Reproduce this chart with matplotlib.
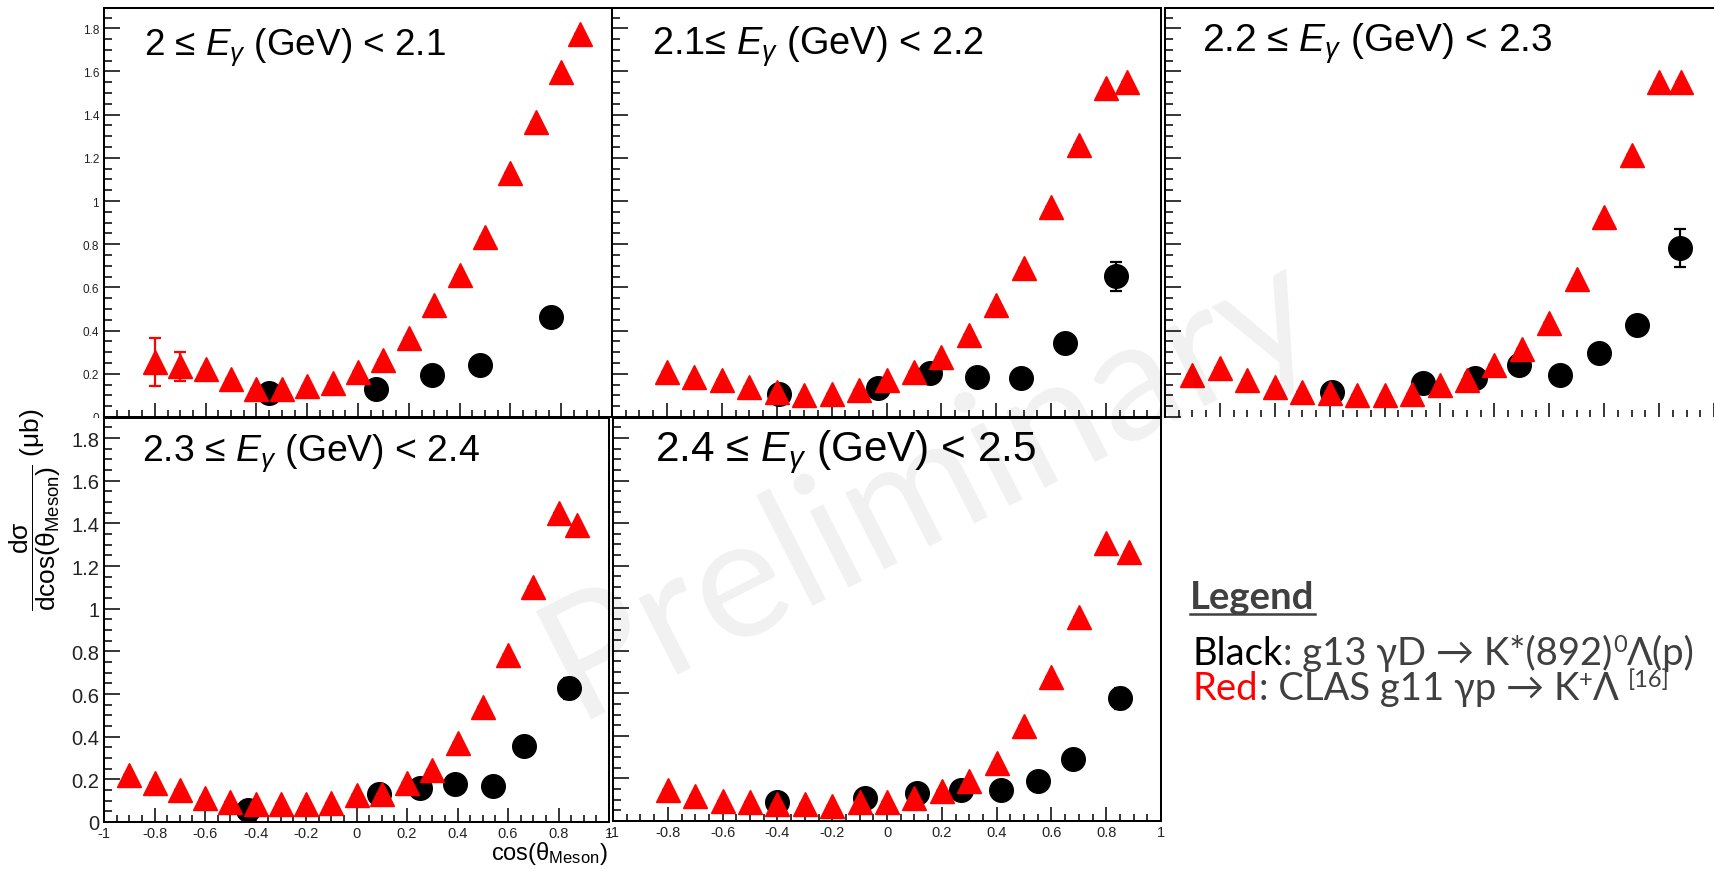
import matplotlib
matplotlib.use("Agg")
import matplotlib.pyplot as plt
from matplotlib.ticker import MultipleLocator, FuncFormatter
from matplotlib.patches import Rectangle
from matplotlib.lines import Line2D

W, H, DPI = 1714, 870, 100

plt.rcParams['font.family'] = ['Liberation Sans', 'DejaVu Sans']
plt.rcParams['mathtext.fontset'] = 'custom'
plt.rcParams['mathtext.rm'] = 'Liberation Sans'
plt.rcParams['mathtext.it'] = 'Liberation Sans:italic'
plt.rcParams['mathtext.bf'] = 'Liberation Sans:bold'
plt.rcParams['axes.unicode_minus'] = False

# ---- photon energy bins (GeV) ----
e_low = ["2", "2.1", "2.2", "2.3", "2.4"]
e_high = ["2.1", "2.2", "2.3", "2.4", "2.5"]

# ---- g13: gamma D -> K*(892)0 Lambda (p)  [black circles] ----
g13_cos = [
    [-0.35, 0.07, 0.29, 0.48, 0.76],
    [-0.39, -0.03, 0.16, 0.33, 0.49, 0.65, 0.835],
    [-0.39, -0.06, 0.13, 0.29, 0.44, 0.58, 0.72, 0.875],
    [-0.43, 0.09, 0.25, 0.39, 0.54, 0.665, 0.84],
    [-0.40, -0.08, 0.11, 0.27, 0.415, 0.55, 0.68, 0.85],
]
g13_xsec = [
    [0.113, 0.128, 0.195, 0.241, 0.465],
    [0.105, 0.136, 0.202, 0.187, 0.179, 0.342, 0.651],
    [0.116, 0.156, 0.179, 0.241, 0.195, 0.295, 0.426, 0.782],
    [0.055, 0.130, 0.161, 0.177, 0.169, 0.356, 0.627],
    [0.090, 0.106, 0.131, 0.147, 0.147, 0.186, 0.291, 0.577],
]
g13_err = [
    [0.03, 0.03, 0.03, 0.03, 0.04],
    [0.03, 0.03, 0.03, 0.03, 0.03, 0.04, 0.068],
    [0.03, 0.03, 0.03, 0.03, 0.03, 0.03, 0.04, 0.087],
    [0.03, 0.03, 0.03, 0.03, 0.03, 0.04, 0.05],
    [0.03, 0.03, 0.03, 0.03, 0.03, 0.03, 0.04, 0.05],
]

# ---- CLAS g11: gamma p -> K+ Lambda  [red triangles] ----
g11_cos = [
    [-0.8, -0.7, -0.6, -0.5, -0.4, -0.3, -0.2, -0.1, 0.0, 0.1, 0.2, 0.3, 0.4, 0.5, 0.6, 0.7, 0.8, 0.875],
    [-0.8, -0.7, -0.6, -0.5, -0.4, -0.3, -0.2, -0.1, 0.0, 0.1, 0.2, 0.3, 0.4, 0.5, 0.6, 0.7, 0.8, 0.875],
    [-0.9, -0.8, -0.7, -0.6, -0.5, -0.4, -0.3, -0.2, -0.1, 0.0, 0.1, 0.2, 0.3, 0.4, 0.5, 0.6, 0.7, 0.8, 0.88],
    [-0.9, -0.8, -0.7, -0.6, -0.5, -0.4, -0.3, -0.2, -0.1, 0.0, 0.1, 0.2, 0.3, 0.4, 0.5, 0.6, 0.7, 0.8, 0.875],
    [-0.8, -0.7, -0.6, -0.5, -0.4, -0.3, -0.2, -0.1, 0.0, 0.1, 0.2, 0.3, 0.4, 0.5, 0.6, 0.7, 0.8, 0.885],
]
g11_xsec = [
    [0.255, 0.235, 0.224, 0.178, 0.131, 0.131, 0.144, 0.156, 0.210, 0.263, 0.365, 0.519,
     0.658, 0.834, 1.128, 1.367, 1.599, 1.773],
    [0.210, 0.185, 0.170, 0.139, 0.116, 0.100, 0.108, 0.124, 0.170, 0.209, 0.278, 0.379,
     0.518, 0.688, 0.973, 1.259, 1.522, 1.553],
    [0.195, 0.227, 0.171, 0.141, 0.118, 0.110, 0.100, 0.100, 0.108, 0.147, 0.170, 0.240,
     0.317, 0.433, 0.641, 0.927, 1.213, 1.553, 1.553],
    [0.219, 0.181, 0.149, 0.111, 0.094, 0.086, 0.086, 0.086, 0.091, 0.127, 0.131, 0.181,
     0.244, 0.369, 0.541, 0.782, 1.104, 1.448, 1.392],
    [0.146, 0.116, 0.092, 0.088, 0.080, 0.080, 0.072, 0.088, 0.088, 0.107, 0.140, 0.186,
     0.272, 0.445, 0.679, 0.961, 1.305, 1.266],
]
g11_err = [
    [0.11, 0.066] + [0.0] * 16,
    [0.0] * 18,
    [0.0] * 19,
    [0.0] * 19,
    [0.0] * 18,
]

# ---- figure and pads (pixel boxes: x0, y0, x1, y1 from top-left) ----
fig = plt.figure(figsize=(W / DPI, H / DPI), dpi=DPI)
fig.patch.set_facecolor('white')

pads = [
    (104, 9, 612, 418),
    (612, 9, 1161, 418),
    (1165, 9, 1714, 418),
    (104, 419, 609, 823),
    (613, 419, 1161, 822),
]
title_pos = [(144, 55), (652, 55), (1202, 52), (142, 461), (655, 461)]
title_size = [26.6, 27.4, 28.0, 26.9, 30.4]
title_sep = [" ≤ ", "≤ ", " ≤ ", " ≤ ", " ≤ "]

YMAX = 1.894


def tick_text(v, pos):
    v = round(v, 6)
    if v == 0:
        v = 0.0
    return f"{v:g}".replace("-0", "-0") if v != 0 else "0"


fmt = FuncFormatter(tick_text)


def add_pad(box):
    x0, y0, x1, y1 = box
    return fig.add_axes([x0 / W, 1 - y1 / H, (x1 - x0) / W, (y1 - y0) / H])


axes = []
for i, box in enumerate(pads):
    ax = add_pad(box)
    ax.set_xlim(-1, 1)
    ax.set_ylim(0, YMAX)
    ax.xaxis.set_major_locator(MultipleLocator(0.2))
    ax.xaxis.set_minor_locator(MultipleLocator(0.05))
    ax.yaxis.set_major_locator(MultipleLocator(0.2))
    ax.yaxis.set_minor_locator(MultipleLocator(0.05))
    ax.xaxis.set_major_formatter(fmt)
    ax.yaxis.set_major_formatter(fmt)
    ax.tick_params(axis='both', which='both', direction='in', width=1.1,
                   top=False, right=False, colors='black', labelcolor='#222222')
    ax.tick_params(axis='y', which='major', length=11.5)
    ax.tick_params(axis='y', which='minor', length=5.8)
    ax.tick_params(axis='x', which='major', length=10)
    ax.tick_params(axis='x', which='minor', length=5)
    for sp in ax.spines.values():
        sp.set_linewidth(1.45)
    ax.tick_params(labelbottom=False, labelleft=False)

    # data
    ax.errorbar(g13_cos[i], g13_xsec[i], yerr=g13_err[i], fmt='o', ms=17,
                color='black', ecolor='black', elinewidth=1.6, capsize=4,
                capthick=1.6, zorder=3)
    ax.errorbar(g11_cos[i], g11_xsec[i], yerr=g11_err[i], fmt='^', ms=17,
                color='#ff0000', ecolor='#ff0000', elinewidth=1.6, capsize=4.5,
                capthick=1.6, zorder=4)

    tx, ty = title_pos[i]
    fig.text(tx / W, 1 - ty / H,
             e_low[i] + title_sep[i] + r"$E_{\gamma}$ (GeV) < " + e_high[i],
             fontsize=title_size[i], ha='left', va='baseline', color='black')
    axes.append(ax)

ax1, ax2, ax3, ax4, ax5 = axes

# tick labels
ax1.tick_params(labelleft=True, labelsize=8.5, pad=3.5)
ax4.tick_params(axis='y', labelleft=True, labelsize=14.5, pad=3.5)
ax4.tick_params(axis='x', labelbottom=True, labelsize=10.5, pad=3)
ax5.tick_params(axis='x', labelbottom=True, labelsize=10.5, pad=3)

# the third pad runs off the canvas on the right, with no bottom frame line
ax3.spines['bottom'].set_visible(False)
ax3.spines['right'].set_visible(False)

# lower half of the "0" label of the first pad sits under the pad below
fig.add_artist(Rectangle((78 / W, 1 - 432 / H), 25 / W, 13.5 / H,
                         transform=fig.transFigure, facecolor='white',
                         edgecolor='none', zorder=5))

# axis titles
fig.text(35 / W, 1 - 510 / H,
         r"$\dfrac{\mathrm{d\sigma}}{\mathrm{dcos(\theta_{Meson})}}$ $\mathrm{(\mu b)}$",
         rotation=90, ha='center', va='center', fontsize=19, color='black')
fig.text(608 / W, 1 - 860 / H, r"$\mathrm{cos(\theta_{Meson})}$",
         ha='right', va='baseline', fontsize=17, color='black')

# watermark
fig.text(929 / W, 1 - 486 / H, "Preliminary", rotation=27, rotation_mode='anchor',
         ha='center', va='center', fontsize=122, color='black', alpha=0.06,
         family=['Lato', 'DejaVu Sans'], zorder=10)

# legend text block
renderer = fig.canvas.get_renderer()
LEG_FONT = ['Lato', 'DejaVu Sans']
GRAY = '#404040'
LEG_SIZE = 27.5
SUP = 0.62


def text_run(x, y, pieces):
    for txt, color, size, dy, weight in pieces:
        t = fig.text(x / W, 1 - (y - dy) / H, txt, color=color, fontsize=size,
                     ha='left', va='baseline', family=LEG_FONT, fontweight=weight)
        bb = t.get_window_extent(renderer)
        x += bb.width
    return x


t_leg = fig.text(1190 / W, 1 - 609 / H, "Legend", color=GRAY, fontsize=LEG_SIZE,
                 ha='left', va='baseline', family=LEG_FONT, fontweight='bold')
bb = t_leg.get_window_extent(renderer)
fig.add_artist(Line2D([bb.x0 / W, bb.x1 / W], [1 - 615 / H, 1 - 615 / H],
                      transform=fig.transFigure, color=GRAY, lw=1.8))

text_run(1193, 665, [("Black", 'black', LEG_SIZE, 0, 'normal'),
                     (": g13 γD → K*(892)", GRAY, LEG_SIZE, 0, 'normal'),
                     ("0", GRAY, LEG_SIZE * SUP, 13, 'normal'),
                     ("Λ(p)", GRAY, LEG_SIZE, 0, 'normal')])
x_end = text_run(1193, 700, [("Red", '#ff0000', LEG_SIZE, 0, 'normal'),
                             (": CLAS g11 γp → K", GRAY, LEG_SIZE, 0, 'normal'),
                             ("+", GRAY, LEG_SIZE * SUP, 13, 'normal'),
                             ("Λ", GRAY, LEG_SIZE, 0, 'normal')])
text_run(x_end + 9, 700, [("[16]", GRAY, LEG_SIZE * SUP, 13, 'normal')])

fig.savefig("out.png", dpi=DPI, facecolor='white')
